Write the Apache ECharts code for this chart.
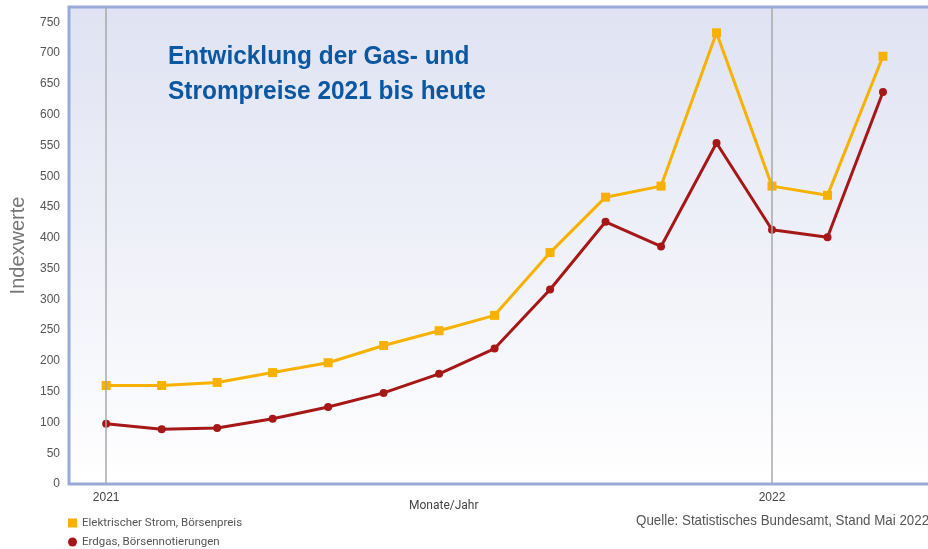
<!DOCTYPE html>
<html>
<head>
<meta charset="utf-8">
<script src="https://cdn.jsdelivr.net/npm/echarts@6/dist/echarts.min.js"></script>
<style>
html,body{margin:0;padding:0;background:#fff}
#main{width:928px;height:549px}
</style>
</head>
<body>
<div id="main"></div>
<script>
// Monate Jan 2021 .. Mär 2022
var months=['01/2021','02/2021','03/2021','04/2021','05/2021','06/2021','07/2021','08/2021','09/2021','10/2021','11/2021','12/2021','01/2022','02/2022','03/2022']
var strom=[160,160,165,181,197,225,249,274,376,466,484,733,484,469,695]
var gas=[98,89,91,106,125,148,179,220,316,426,386,554,413,401,637]
var yearTicks=[0,12]
var yearLabels=['2021','2022']

var sans='"Liberation Sans",Arial,sans-serif'

function toPairs(arr){
    var out=[]
    for(var i=0;i<arr.length;i++) out.push([i,arr[i]])
    return out
}

function drawChar(){
    var myChart=echarts.init(document.getElementById('main'))
    var option={
        animation:false,
        grid:{
            left:69,top:7,width:880,bottom:65,
            outerBoundsMode:'none',
            containLabel:false,
            show:true,
            borderColor:'#9aaad8',
            borderWidth:3,
            backgroundColor:new echarts.graphic.LinearGradient(0,0,0,1,[
                {offset:0,color:'#dfe2f2'},
                {offset:1,color:'#ffffff'}
            ])
        },
        legend:{
            orient:'vertical',
            left:68,top:517,
            padding:0,
            itemWidth:9,itemHeight:9,itemGap:7,
            textStyle:{color:'#555',fontSize:11.5,fontFamily:'Roboto,sans-serif'},
            data:[
                {name:'Elektrischer Strom, Börsenpreis',icon:'rect'},
                {name:'Erdgas, Börsennotierungen',icon:'circle'}
            ]
        },
        graphic:[
            {type:'text',left:168,top:39,scaleX:0.94,style:{
                text:'Entwicklung der Gas- und\nStrompreise 2021 bis heute',
                fill:'#0b57a1',font:'bold 26px '+sans,lineHeight:35
            }},
            {type:'text',left:409,top:500,style:{
                text:'Monate/Jahr',fill:'#444',font:'12px Roboto,sans-serif'
            }},
            {type:'text',x:636,y:513,scaleX:0.89,style:{
                text:'Quelle: Statistisches Bundesamt, Stand Mai 2022',
                fill:'#555',font:'15px '+sans
            }}
        ],
        xAxis:{
            type:'value',
            min:-0.67,max:15.19,
            axisLine:{show:false},
            axisTick:{show:false},
            splitLine:{show:false},
            axisLabel:{
                customValues:yearTicks,
                margin:8,
                color:'#444',fontSize:12,fontFamily:sans,
                formatter:function(v){
                    var i=yearTicks.indexOf(Math.round(v))
                    return i>=0?yearLabels[i]:''
                }
            }
        },
        yAxis:{
            type:'value',
            min:0,max:775,interval:50,
            name:'Indexwerte',
            nameLocation:'middle',
            nameGap:41,
            nameRotate:90,
            nameTextStyle:{color:'#777',fontSize:20,fontFamily:sans},
            axisLine:{show:false},
            axisTick:{show:false},
            splitLine:{show:false},
            axisLabel:{
                showMaxLabel:false,
                margin:9,
                color:'#555',fontSize:12,fontFamily:sans
            }
        },
        series:[
            {
                name:'Elektrischer Strom, Börsenpreis',
                type:'line',
                data:toPairs(strom),
                symbol:'rect',symbolSize:9,
                itemStyle:{color:'#f7b100'},
                lineStyle:{color:'#f7b100',width:3},
                markLine:{
                    silent:true,symbol:'none',
                    label:{show:false},
                    lineStyle:{color:'#a8a8a8',width:1.5,type:'solid'},
                    data:yearTicks.map(function(t){return {xAxis:t}})
                },
                z:3
            },
            {
                name:'Erdgas, Börsennotierungen',
                type:'line',
                data:toPairs(gas),
                symbol:'circle',symbolSize:8,
                itemStyle:{color:'#a61717'},
                lineStyle:{color:'#a61717',width:3},
                z:3
            }
        ]
    }
    myChart.setOption(option)
}

drawChar()
</script>
</body>
</html>
